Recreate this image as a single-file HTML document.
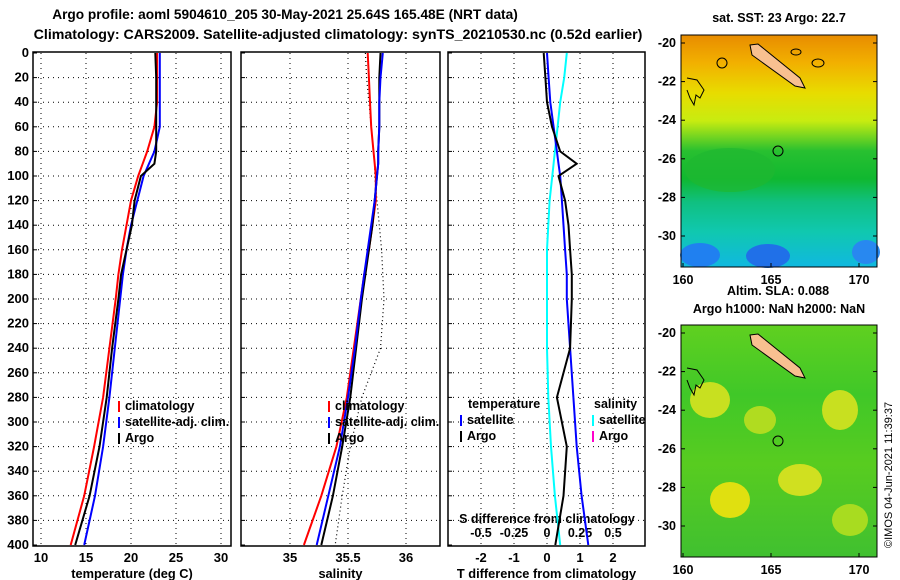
<!DOCTYPE html>
<html><head><meta charset="utf-8"><style>
body{margin:0;background:#fff;}
svg{display:block;font-family:"Liberation Sans",sans-serif;font-weight:bold;}
</style></head><body>
<svg id="s" width="900" height="580">
<defs>
<linearGradient id="g1" x1="0" y1="0" x2="0" y2="1">
<stop offset="0" stop-color="#e88c00"/><stop offset="0.12" stop-color="#f2b000"/><stop offset="0.25" stop-color="#e8dc00"/><stop offset="0.37" stop-color="#c8ec10"/><stop offset="0.5" stop-color="#28c030"/><stop offset="0.62" stop-color="#10b830"/><stop offset="0.72" stop-color="#10c080"/><stop offset="0.85" stop-color="#10c8b0"/><stop offset="1" stop-color="#10b8e0"/>
</linearGradient>
<linearGradient id="g2" x1="0" y1="0" x2="0" y2="1">
<stop offset="0" stop-color="#60d020"/><stop offset="0.3" stop-color="#40c828"/><stop offset="0.6" stop-color="#58cc20"/><stop offset="1" stop-color="#40c030"/>
</linearGradient>
</defs>
<text x="285" y="19" font-size="13.7" text-anchor="middle">Argo profile: aoml 5904610_205 30-May-2021 25.64S 165.48E (NRT data)</text>
<text x="338" y="39" font-size="14.2" text-anchor="middle">Climatology: CARS2009. Satellite-adjusted climatology: synTS_20210530.nc (0.52d earlier)</text>
<g id="p1"></g><g id="p2"></g><g id="p3"></g>
<g>
<text x="779" y="22" font-size="12.5" text-anchor="middle">sat. SST: 23 Argo: 22.7</text>
<rect x="681" y="35" width="196" height="232" fill="url(#g1)"/>
<ellipse cx="700" cy="255" rx="20" ry="12" fill="#2080f0"/>
<ellipse cx="768" cy="256" rx="22" ry="12" fill="#2070e8"/>
<ellipse cx="866" cy="252" rx="14" ry="12" fill="#2888f0"/>
<ellipse cx="730" cy="170" rx="45" ry="22" fill="#20b830" opacity="0.7"/>
<polyline points="687,78 697,80 704,90 700,98 696,95 694,105 690,98 687,90" fill="none" stroke="#000"/>
<ellipse cx="722" cy="63" rx="5" ry="5" fill="none" stroke="#000"/>
<ellipse cx="796" cy="52" rx="5" ry="3" fill="none" stroke="#000"/>
<ellipse cx="818" cy="63" rx="6" ry="4" fill="none" stroke="#000"/>
<polygon points="750,45 758,44 800,78 805,88 795,86 752,55" fill="#f8c090" stroke="#000"/>
<circle cx="778" cy="151" r="5" fill="none" stroke="#000"/>
<rect x="681" y="35" width="196" height="232" fill="none" stroke="#000"/>
</g>
<g>
<text x="778" y="295" font-size="12.5" text-anchor="middle">Altim. SLA: 0.088</text>
<text x="779" y="313" font-size="12.5" text-anchor="middle">Argo h1000: NaN h2000: NaN</text>
<rect x="681" y="325" width="196" height="232" fill="url(#g2)"/>
<ellipse cx="710" cy="400" rx="20" ry="18" fill="#c8e020"/>
<ellipse cx="760" cy="420" rx="16" ry="14" fill="#b0dc20"/>
<ellipse cx="840" cy="410" rx="18" ry="20" fill="#c8e020"/>
<ellipse cx="800" cy="480" rx="22" ry="16" fill="#d0e020"/>
<ellipse cx="730" cy="500" rx="20" ry="18" fill="#e0e010"/>
<ellipse cx="850" cy="520" rx="18" ry="16" fill="#a8dc20"/>
<polyline points="687,368 697,370 704,380 700,388 696,385 694,395 690,388 687,380" fill="none" stroke="#000"/>
<polygon points="750,335 758,334 800,368 805,378 795,376 752,345" fill="#f8c090" stroke="#000"/>
<circle cx="778" cy="441" r="5" fill="none" stroke="#000"/>
<rect x="681" y="325" width="196" height="232" fill="none" stroke="#000"/>
</g>
<g id="maxes" font-size="12.5"></g>
<text transform="translate(892,548) rotate(-90)" font-size="11" font-weight="normal">©IMOS 04-Jun-2021 11:39:37</text>
</svg>
<script>
const depths=[0,20,40,60,80,90,100,120,140,160,180,200,240,280,320,360,400];
const tClim=[22.9,22.9,22.9,22.6,21.8,21.3,20.8,20.0,19.5,19.0,18.6,18.3,17.6,16.9,15.9,14.8,13.3];
const tSat=[23.2,23.2,23.2,23.2,22.6,22.0,21.4,20.7,20.0,19.5,19.1,18.8,18.2,17.6,16.9,16.0,14.8];
const tArgo=[22.7,22.8,22.8,22.8,22.8,22.6,21.1,20.4,20.1,19.5,18.9,18.6,17.9,17.3,16.5,15.4,13.8];
const sClim=[35.67,35.68,35.69,35.70,35.72,35.73,35.74,35.74,35.71,35.68,35.64,35.61,35.55,35.49,35.40,35.27,35.12];
const sSat=[35.80,35.78,35.77,35.77,35.76,35.76,35.75,35.73,35.70,35.67,35.64,35.61,35.56,35.50,35.43,35.33,35.23];
const sArgo=[35.78,35.77,35.77,35.77,35.76,35.76,35.75,35.73,35.71,35.68,35.65,35.62,35.57,35.52,35.45,35.37,35.27];
const sOther=[35.65,35.66,35.68,35.70,35.72,35.73,35.73,35.75,35.77,35.79,35.80,35.81,35.78,35.62,35.52,35.45,35.39];
const dTSat=[0.0,0.05,0.1,0.2,0.3,0.35,0.4,0.45,0.5,0.55,0.6,0.6,0.7,0.8,0.9,1.05,1.25];
const dTArgo=[-0.1,-0.05,0.0,0.15,0.4,0.9,0.35,0.55,0.65,0.7,0.75,0.75,0.7,0.3,0.6,0.5,0.25];
const dSSat=[0.15,0.13,0.1,0.08,0.06,0.05,0.04,0.02,0.01,0.0,0.0,0.0,0.0,0.01,0.03,0.06,0.1];
const depthTicks=[0,20,40,60,80,100,120,140,160,180,200,220,240,260,280,300,320,340,360,380,400];
const NS="http://www.w3.org/2000/svg";
const yD=d=>53+d*1.23;
function el(p,t,a){const e=document.createElementNS(NS,t);for(const k in a)e.setAttribute(k,a[k]);p.appendChild(e);return e;}
function panel(gid,x0,x1,xs,ticks,labels,xlabel,leftLabels){
 const g=document.getElementById(gid);
 ticks.forEach(v=>{const gl=el(g,'line',{x1:xs(v),x2:xs(v),y1:53,y2:545,stroke:'#000','stroke-dasharray':'1,4'});
 });
 depthTicks.forEach(d=>{if(d>0&&d<400){const gl=el(g,'line',{x1:x0,x2:x1,y1:yD(d),y2:yD(d),stroke:'#000','stroke-dasharray':'1,4'});
 }
 el(g,'line',{x1:x0,x2:x0+4,y1:yD(d),y2:yD(d),stroke:'#000'});
 if(leftLabels){const t=el(g,'text',{x:x0-4,y:yD(d)+4,'font-size':13,'text-anchor':'end'});t.textContent=d;
 }});
 labels.forEach((l,i)=>{const t=el(g,'text',{x:xs(ticks[i]),y:562,'font-size':13,'text-anchor':'middle'});t.textContent=l;
 });
 const xl=el(g,'text',{x:(x0+x1)/2,y:578,'font-size':12.8,'text-anchor':'middle'});xl.textContent=xlabel;
 
 const r=el(g,'rect',{x:x0,y:52,width:x1-x0,height:494,fill:'none',stroke:'#000','stroke-width':1.5});
 
 return g;}
function line(g,xs,vals,col,name,dash){const pts=vals.map((v,i)=>xs(v).toFixed(1)+','+yD(depths[i]).toFixed(1)).join(' ');
 const p=el(g,'polyline',{points:pts,fill:'none',stroke:col,'stroke-width':dash?1.2:2});if(dash)p.setAttribute('stroke-dasharray','1,3');
 }
function legend(g,x,y,items){items.forEach((it,i)=>{el(g,'line',{x1:x,x2:x,y1:y+i*16-9,y2:y+i*16+2,stroke:it[1],'stroke-width':2});
 const t=el(g,'text',{x:x+6,y:y+i*16,'font-size':12.5});t.textContent=it[0];});}
const xT=v=>41+(v-10)*9;
const g1=panel('p1',33,231,xT,[10,15,20,25,30],['10','15','20','25','30'],'temperature (deg C)',true);
line(g1,xT,tClim,'#f00','temp-climatology-line');line(g1,xT,tSat,'#00f','temp-satellite-line');line(g1,xT,tArgo,'#000','temp-argo-line');
legend(g1,119,410,[['climatology','#f00'],['satellite-adj. clim.','#00f'],['Argo','#000']]);
const xS=v=>290+(v-35)*116;
const g2=panel('p2',241,440,xS,[35,35.5,36],['35','35.5','36'],'salinity',false);
line(g2,xS,sOther,'#000','salinity-other-clim-dotted',true);
line(g2,xS,sClim,'#f00','sal-climatology-line');line(g2,xS,sArgo,'#000','sal-argo-line');line(g2,xS,sSat,'#00f','sal-satellite-line');
legend(g2,329,410,[['climatology','#f00'],['satellite-adj. clim.','#00f'],['Argo','#000']]);
const xDT=v=>547+v*33; const xDS=v=>547+v*132;
const g3=panel('p3',448,645,xDT,[-2,-1,0,1,2],['-2','-1','0','1','2'],'T difference from climatology',false);
[-0.5,-0.25,0,0.25,0.5].forEach((v,i)=>{const t=el(g3,'text',{x:xDS(v),y:537,'font-size':12.5,'text-anchor':'middle'});t.textContent=['-0.5','-0.25','0','0.25','0.5'][i];
 });
const st=el(g3,'text',{x:547,y:523,'font-size':12.5,'text-anchor':'middle'});st.textContent='S difference from climatology';

line(g3,xDS,dSSat,'#0ff','sdiff-satellite-line');line(g3,xDT,dTSat,'#00f','tdiff-satellite-line');line(g3,xDT,dTArgo,'#000','tdiff-argo-line');
const tl=el(g3,'text',{x:468,y:408,'font-size':12.5});tl.textContent='temperature';

const sl=el(g3,'text',{x:594,y:408,'font-size':12.5});sl.textContent='salinity';

legend(g3,461,424,[['satellite','#00f'],['Argo','#000']]);
legend(g3,593,424,[['satellite','#0ff'],['Argo','#f0c']]);
const mx=document.getElementById('maxes');
const lats=[-20,-22,-24,-26,-28,-30];
[[35,267],[325,557]].forEach(([t,b])=>{
 lats.forEach(l=>{const y=t+8+(-20-l)*19.3;const e=el(mx,'text',{x:676,y:y+4,'text-anchor':'end'});e.textContent=l;
 
 el(mx,'line',{x1:681,x2:685,y1:y,y2:y,stroke:'#000'});el(mx,'line',{x1:873,x2:877,y1:y,y2:y,stroke:'#000'});});
 [160,165,170].forEach(l=>{const x=683+(l-160)*17.6;const e=el(mx,'text',{x:x,y:b+17,'text-anchor':'middle'});e.textContent=l;
 
 el(mx,'line',{x1:x,x2:x,y1:b,y2:b-4,stroke:'#000'});});
});
</script>
</body></html>
